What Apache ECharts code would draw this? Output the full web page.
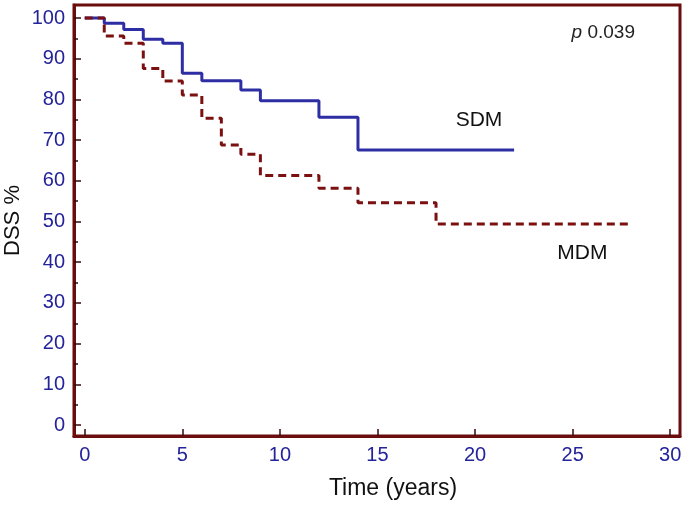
<!DOCTYPE html>
<html>
<head>
<meta charset="utf-8">
<script src="https://cdn.jsdelivr.net/npm/echarts@6/dist/echarts.min.js"></script>
<style>html,body{margin:0;padding:0;background:#fff}#c{width:685px;height:506px}</style>
</head>
<body>
<div id="c"></div>
<script>
const sdmTimes = [0, 1, 2, 3, 4, 5, 6, 8, 9, 12, 14, 22];
const sdmSurv  = [100, 98.7, 97.2, 94.8, 93.8, 86.4, 84.6, 82.3, 79.7, 75.6, 67.6, 67.6];
const mdmTimes = [0, 1, 2, 3, 4, 5, 6, 7, 8, 9, 12, 14, 18, 28];
const mdmSurv  = [100, 95.6, 93.8, 87.6, 84.5, 81.1, 75.4, 68.8, 66.5, 61.3, 58.2, 54.6, 49.4, 49.4];
const xTicks = [0, 5, 10, 15, 20, 25, 30];
const yTicks = [0, 10, 20, 30, 40, 50, 60, 70, 80, 90, 100];
const yMinor = [5, 15, 25, 35, 45, 55, 65, 75, 85, 95];
const seriesNames = ['SDM', 'MDM'];
const labelPos = [[20.2, 74.9], [25.5, 42.3]];
const pText = '0.039';

const frame = '#6b0d0d';
const tickBlue = '#23239a';
const font = 'Liberation Sans, Arial, sans-serif';

const chart = echarts.init(document.getElementById('c'));
const yBase = {
  type: 'value', min: -2.7, max: 103.2, position: 'left', offset: 0,
  splitLine: {show: false}
};
chart.setOption({
  animation: false,
  title: {
    text: '{i|p} ' + pText, right: 45, top: 18,
    textStyle: {fontSize: 19, fontFamily: font, color: '#222', fontWeight: 'normal',
      rich: {i: {fontStyle: 'italic', fontSize: 19, fontFamily: font, color: '#222'}}}
  },
  grid: {left: 74, right: 5, top: 5, bottom: 70, show: true, borderColor: frame, borderWidth: 3,
    containLabel: false, outerBoundsMode: 'none'},
  xAxis: {
    type: 'value', min: -0.55, max: 30.5,
    name: 'Time (years)', nameLocation: 'middle', nameGap: 41, nameMoveOverlap: false,
    nameTextStyle: {fontSize: 23, fontFamily: font, color: '#111', padding: [0, 0, 0, 32]},
    axisLine: {show: true, onZero: false, lineStyle: {color: frame, width: 3}},
    axisTick: {show: true, inside: true, length: 7, customValues: xTicks, lineStyle: {color: '#3a0808', width: 1.5}},
    axisLabel: {customValues: xTicks, fontSize: 20, fontFamily: font, color: tickBlue, margin: 9},
    splitLine: {show: false}
  },
  yAxis: [
    Object.assign({}, yBase, {
      name: 'DSS %', nameLocation: 'middle', nameGap: 50, nameMoveOverlap: false,
      nameTextStyle: {fontSize: 22, fontFamily: font, color: '#111'},
      axisLine: {show: true, onZero: false, lineStyle: {color: frame, width: 3}},
      axisTick: {show: true, inside: true, length: 7, customValues: yTicks, lineStyle: {color: '#3a0808', width: 1.5}},
      axisLabel: {customValues: yTicks, fontSize: 20, fontFamily: font, color: tickBlue, margin: 9}
    }),
    Object.assign({}, yBase, {
      axisLine: {show: false, onZero: false},
      axisTick: {show: true, inside: true, length: 4, customValues: yMinor, lineStyle: {color: '#3a0808', width: 1.5}},
      axisLabel: {show: false}
    })
  ],
  series: [
    {
      name: seriesNames[0], type: 'line', step: 'end', showSymbol: false, symbol: 'none',
      data: sdmTimes.map((t, i) => [t, sdmSurv[i]]),
      lineStyle: {color: '#2e2ea4', width: 3},
      markPoint: {symbol: 'circle', symbolSize: 0, silent: true,
        label: {show: true, position: 'inside', formatter: seriesNames[0], fontSize: 21, fontFamily: font, color: '#111'},
        data: [{coord: labelPos[0]}]}
    },
    {
      name: seriesNames[1], type: 'line', step: 'end', showSymbol: false, symbol: 'none',
      data: mdmTimes.map((t, i) => [t, mdmSurv[i]]),
      lineStyle: {color: '#7a1010', width: 3, type: [8, 5]},
      markPoint: {symbol: 'circle', symbolSize: 0, silent: true,
        label: {show: true, position: 'inside', formatter: seriesNames[1], fontSize: 21, fontFamily: font, color: '#111'},
        data: [{coord: labelPos[1]}]}
    }
  ]
});
</script>
</body>
</html>
